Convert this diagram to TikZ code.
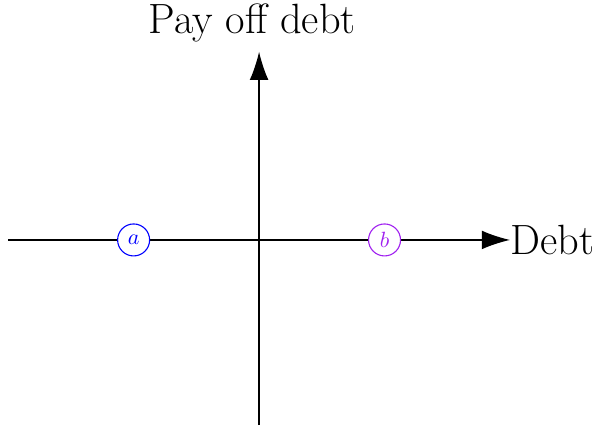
\documentclass[tikz,border=0pt]{standalone}
\usepackage{xcolor}
\usetikzlibrary{positioning,arrows.meta}
\definecolor{ptA}{HTML}{0000FF}
\definecolor{ptB}{HTML}{A020F0}
\tikzset{
  axis/.style={line width=0.55pt, -{Latex[length=4.5mm,width=3mm]}},
  pt/.style={draw, circle, fill=white, line width=0.5pt, minimum size=5.1mm, inner sep=0pt, font=\normalsize}}
\begin{document}
\begin{tikzpicture}[font=\fontsize{19.2}{23}\selectfont]
\useasboundingbox (-4.13,-2.98) rectangle (5.355,3.825);
\coordinate (xl) at (-4,0);
\coordinate (xr) at (4,0);
\coordinate (yb) at (0,-2.95);
\coordinate (yt) at (0,3);
\draw[axis] (xl) -- (xr);
\draw[axis] (yb) -- (yt);
\node[right=0pt of xr, inner sep=0pt] (xlab) {Debt};
\node[above=0pt of yt, inner ysep=4pt, xshift=-1.1mm] (ylab) {Pay off debt};
\node[pt, draw=ptA, text=ptA] (a) at (-2,0) {$a$};
\node[pt, draw=ptB, text=ptB] (b) at (2,0) {$b$};
\end{tikzpicture}
\end{document}
